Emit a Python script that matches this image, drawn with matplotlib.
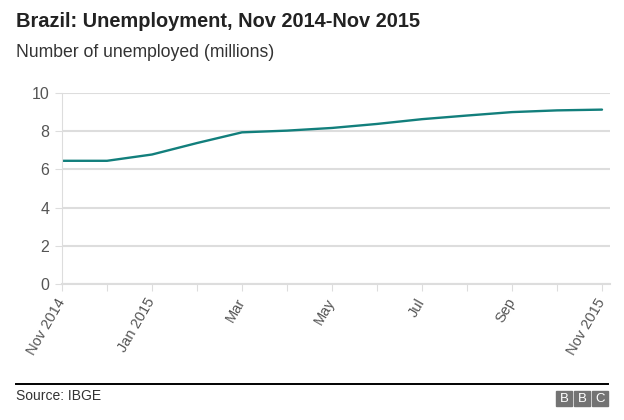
import matplotlib
matplotlib.use("Agg")
from matplotlib import pyplot as plt
from matplotlib.patches import Rectangle

# Brazil unemployment (millions), monthly Nov 2014 - Nov 2015
months = ['Nov 2014', 'Dec', 'Jan 2015', 'Feb', 'Mar', 'Apr', 'May',
          'Jun', 'Jul', 'Aug', 'Sep', 'Oct', 'Nov 2015']
unemployed = [6.45, 6.45, 6.78, 7.38, 7.94, 8.03, 8.17, 8.38, 8.63, 8.82, 9.0, 9.09, 9.13]
tick_labels = ['Nov 2014', '', 'Jan 2015', '', 'Mar', '', 'May', '',
               'Jul', '', 'Sep', '', 'Nov 2015']
y_ticks = [0, 2, 4, 6, 8, 10]

plt.rcParams['font.family'] = ['Liberation Sans', 'DejaVu Sans']

fig = plt.figure(figsize=(6.24, 4.2), dpi=100)
W, H = 624, 420
ax = fig.add_axes([62 / W, 1 - 284 / H, (610 - 62) / W, (284 - 93) / H])

idx = list(range(len(months)))
ax.plot(idx, unemployed, color='#127f7c', lw=1.7, solid_capstyle='round')

ax.set_xlim(0, 12 * (610 - 62) / (602 - 62))
ax.set_ylim(0, 10)
ax.set_yticks(y_ticks)
ax.set_yticklabels([str(v) for v in y_ticks], fontsize=11.5, color='#555555')
ax.set_xticks(idx)
ax.set_xticklabels(tick_labels, rotation=60, ha='right', va='center',
                   rotation_mode='anchor', fontsize=10.5, color='#555555')
ax.tick_params(axis='both', length=5, color='#dddddd')
ax.tick_params(axis='x', pad=6)
ax.tick_params(axis='y', pad=4)

ax.grid(axis='y', color='#dddddd', lw=1.5)
ax.set_axisbelow(True)
for s in ['top', 'right']:
    ax.spines[s].set_visible(False)
ax.spines['left'].set_color('#dddddd')
ax.spines['bottom'].set_color('#dddddd')
ax.spines['bottom'].set_linewidth(1.5)

fig.text(16 / W, 1 - 27 / H, 'Brazil: Unemployment, Nov 2014-Nov 2015',
         fontsize=14.4, fontweight='bold', color='#222222', va='baseline')
fig.text(16 / W, 1 - 57 / H, 'Number of unemployed (millions)',
         fontsize=12.7, color='#333333', va='baseline')

# footer
fig.add_artist(plt.Line2D([16 / W, 608 / W], [1 - 384 / H, 1 - 384 / H],
                          color='black', lw=1.4))
fig.text(16 / W, 1 - 400 / H, 'Source: IBGE', fontsize=10, color='#333333',
         va='baseline')
for i, letter in enumerate('BBC'):
    x0 = 556 + i * 18
    fig.add_artist(Rectangle((x0 / W, 1 - 406 / H), 16 / W, 15 / H,
                             color='#737373', transform=fig.transFigure))
    fig.text((x0 + 8) / W, 1 - 398.5 / H, letter, fontsize=9.5, color='white',
             ha='center', va='center')

plt.savefig('out.png', dpi=100)
